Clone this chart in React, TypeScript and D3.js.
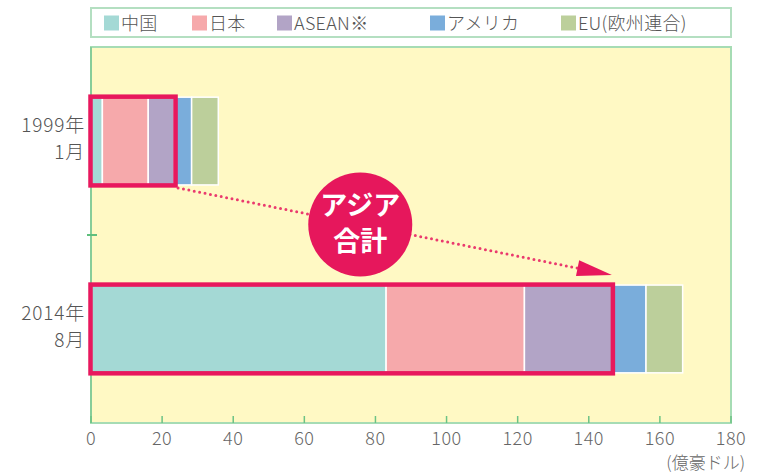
import React from 'react';
import * as d3 from 'd3';

// ---- data ----
const categories: string[] = ['1999年\n1月', '2014年\n8月'];
const seriesNames: string[] = ['中国', '日本', 'ASEAN※', 'アメリカ', 'EU(欧州連合)'];
const china: number[] = [3.2, 83.0];
const japan: number[] = [12.9, 38.9];
const asean: number[] = [7.4, 24.6];
const america: number[] = [4.8, 9.6];
const eu: number[] = [7.5, 10.3];
const xTicks: number[] = [0, 20, 40, 60, 80, 100, 120, 140, 160, 180];
const unitLabel = '(億豪ドル)';
const badgeLines: string[] = ['アジア', '合計'];
const asiaSeriesCount = 3; // 中国 + 日本 + ASEAN

const colors = ['#a4d9d5', '#f6a9ab', '#b2a4c6', '#7aaddb', '#bccf9b'];

const W = 763;
const H = 473;
const FONT = '"Noto Sans CJK JP", "Noto Sans", sans-serif';

export default function App() {
  const left = 91, right = 731, top = 47, bottom = 423;
  const x = d3.scaleLinear().domain([0, 180]).range([left, right]);
  const y = d3.scaleBand<string>().domain(categories).range([top, bottom]).paddingInner(0.533).paddingOuter(0.267);

  const rows = categories.map((c, i) => ({
    cat: c,
    [seriesNames[0]]: china[i],
    [seriesNames[1]]: japan[i],
    [seriesNames[2]]: asean[i],
    [seriesNames[3]]: america[i],
    [seriesNames[4]]: eu[i],
  }));
  const stacked = d3.stack<any>().keys(seriesNames)(rows as any);

  const bw = y.bandwidth();
  const asiaTotals = categories.map((_, i) => stacked[asiaSeriesCount - 1][i][1]);

  // arrow from 1999 asia box corner to 2014 asia box top
  const c0 = categories[0], c1 = categories[1];
  const ax0 = x(asiaTotals[0]) + 3.5;
  const ay0 = (y(c0) as number) + bw + 3;
  const ax1 = x(asiaTotals[1]);
  const ay1 = (y(c1) as number) - 10;
  const dx = ax1 - ax0, dy = ay1 - ay0;
  const len = Math.sqrt(dx * dx + dy * dy);
  const ux = dx / len, uy = dy / len;
  const headL = 35, headW = 8;
  const bx = ax1 - ux * headL, by = ay1 - uy * headL;
  const head = `M${ax1},${ay1} L${bx - uy * headW},${by + ux * headW} L${bx + uy * headW},${by - ux * headW} Z`;
  const t = 0.42;
  const cx = ax0 + dx * t, cy = ay0 + dy * t;

  const midTickY = ((y(c0) as number) + (y(c1) as number) + bw) / 2;

  const legendX = [104, 192, 277, 430, 561];

  return (
    <svg width={W} height={H} style={{ position: 'absolute', left: 0, top: 0, background: '#fff' }} fontFamily={FONT}>
      {/* legend */}
      <rect x={left} y={8} width={right - left} height={29} fill="#fff" stroke="#b4dfc1" strokeWidth={2} />
      {seriesNames.map((n, i) => (
        <g key={n}>
          <rect x={legendX[i]} y={15.5} width={15} height={15} fill={colors[i]} />
          <text x={legendX[i] + 17} y={29.5} fontSize={18} fontWeight={300} letterSpacing={0.3} fill="#555">{n}</text>
        </g>
      ))}

      {/* plot background */}
      <rect x={left} y={top} width={right - left} height={bottom - top} fill="#fff9c4" stroke="#a6dcb4" strokeWidth={2} />
      <line x1={left} x2={left} y1={top} y2={bottom} stroke="#7cc990" strokeWidth={1.5} />
      <line x1={left - 4} x2={left + 6} y1={midTickY} y2={midTickY} stroke="#5fbf7c" strokeWidth={2} />
      {xTicks.map((v) => (
        <g key={v}>
          <line x1={x(v)} x2={x(v)} y1={bottom} y2={bottom - 7} stroke="#6cc385" strokeWidth={1.5} />
          <text x={x(v)} y={445} textAnchor="middle" fontSize={18} fontWeight={300} letterSpacing={0.5} fill="#666">{v}</text>
        </g>
      ))}
      <text x={745} y={469} textAnchor="end" fontSize={17} fontWeight={300} fill="#666">{unitLabel}</text>

      {/* category labels */}
      {categories.map((c) => {
        const yc = (y(c) as number) + bw / 2;
        const lines = c.split('\n');
        return (
          <text key={c} textAnchor="end" fontSize={19} fontWeight={300} letterSpacing={0.8} fill="#555">
            <tspan x={85} y={yc - 9}>{lines[0]}</tspan>
            <tspan x={85} y={yc + 18}>{lines[1]}</tspan>
          </text>
        );
      })}

      {/* bars */}
      {stacked.map((s, si) => (
        <g key={si} fill={colors[si]}>
          {s.map((d: any, i: number) => (
            <rect key={i} x={x(d[0])} y={y(categories[i])} width={x(d[1]) - x(d[0])} height={bw} stroke="#fff" strokeWidth={1.5} />
          ))}
        </g>
      ))}

      {/* asia boxes */}
      {categories.map((c, i) => (
        <rect key={c} x={x(0) - 0.5} y={(y(c) as number) - 0.5} width={x(asiaTotals[i]) - x(0) + 1.5} height={bw + 1} fill="none" stroke="#e8185d" strokeWidth={4.5} />
      ))}

      {/* arrow */}
      <line x1={ax0} y1={ay0} x2={bx} y2={by} stroke="#ea3a6e" strokeWidth={3} strokeLinecap="round" strokeDasharray="0 5.5" />
      <path d={head} fill="#e8185d" />

      {/* badge */}
      <circle cx={cx} cy={cy} r={52} fill="#e6175c" />
      <text x={cx} y={cy - 10} textAnchor="middle" fontSize={27} fontWeight="bold" fill="#fff">{badgeLines[0]}</text>
      <text x={cx} y={cy + 26} textAnchor="middle" fontSize={27} fontWeight="bold" fill="#fff">{badgeLines[1]}</text>
    </svg>
  );
}
